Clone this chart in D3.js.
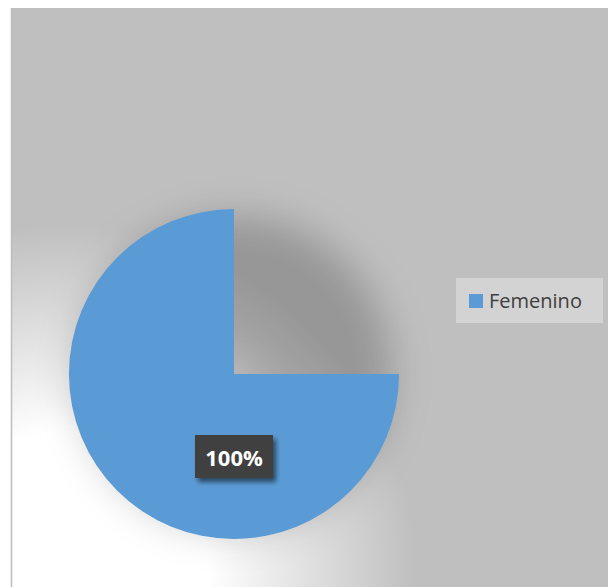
<!DOCTYPE html>
<html>
<head>
<meta charset="utf-8">
<script src="https://cdn.jsdelivr.net/npm/d3@7"></script>
<style>
  html, body { margin: 0; padding: 0; background: #ffffff; }
  svg { display: block; }
</style>
</head>
<body>
<svg id="chart" width="608" height="587"></svg>
<script>
// Gender breakdown of respondents
const categories = ["Femenino"];
const values = [100];
const valueLabels = ["100%"];
const seriesColors = ["#5b9bd5"];

const W = 608, H = 587;
const svg = d3.select("#chart");
const defs = svg.append("defs");

// Chart frame
const frame = { x: 11, y: 8, w: W - 11, h: H - 8 };

// Light spot in the lower-left of the chart area
const glow = defs.append("radialGradient")
  .attr("id", "bgGlow")
  .attr("gradientUnits", "userSpaceOnUse")
  .attr("cx", 70).attr("cy", 570).attr("r", 345);
glow.append("stop").attr("offset", 0).attr("stop-color", "#ffffff");
glow.append("stop").attr("offset", 0.4).attr("stop-color", "#ffffff");
glow.append("stop").attr("offset", 1).attr("stop-color", "#bfbfbf");

defs.append("clipPath").attr("id", "frameClip")
  .append("rect")
  .attr("x", frame.x).attr("y", frame.y)
  .attr("width", frame.w).attr("height", frame.h);

const blurShadow = defs.append("filter").attr("id", "pieShadow")
  .attr("x", "-50%").attr("y", "-50%").attr("width", "200%").attr("height", "200%");
blurShadow.append("feGaussianBlur").attr("stdDeviation", 19);

const labelShadow = defs.append("filter").attr("id", "labelShadow")
  .attr("x", "-30%").attr("y", "-30%").attr("width", "160%").attr("height", "160%");
labelShadow.append("feGaussianBlur").attr("in", "SourceAlpha").attr("stdDeviation", 2.5);
labelShadow.append("feOffset").attr("dx", 3).attr("dy", 4).attr("result", "sh");
labelShadow.append("feComponentTransfer").attr("in", "sh").attr("result", "shA")
  .append("feFuncA").attr("type", "linear").attr("slope", 0.55);
const lm = labelShadow.append("feMerge");
lm.append("feMergeNode").attr("in", "shA");
lm.append("feMergeNode").attr("in", "SourceGraphic");

svg.append("rect")
  .attr("x", frame.x).attr("y", frame.y)
  .attr("width", frame.w).attr("height", frame.h)
  .attr("fill", "#bfbfbf");
svg.append("rect")
  .attr("x", frame.x).attr("y", frame.y)
  .attr("width", frame.w).attr("height", frame.h)
  .attr("fill", "url(#bgGlow)");
svg.append("line")
  .attr("x1", frame.x + 0.5).attr("x2", frame.x + 0.5)
  .attr("y1", frame.y).attr("y2", H)
  .attr("stroke", "#bdbdbd").attr("stroke-width", 1.5);

// Pie geometry
const cx = 234, cy = 374, radius = 165;
const pie = d3.pie().sort(null).value(d => d);
const arcs = pie(values);
const arc = d3.arc().innerRadius(0).outerRadius(radius);
const shadowRing = d3.arc().innerRadius(12).outerRadius(158);

const plot = svg.append("g").attr("clip-path", "url(#frameClip)")
  .append("g").attr("transform", `translate(${cx},${cy})`);

// Soft drop shadow beneath the pie
plot.selectAll("path.shadow")
  .data(arcs)
  .join("path")
  .attr("class", "shadow")
  .attr("d", shadowRing)
  .attr("fill", "#000")
  .attr("fill-opacity", 0.21)
  .attr("filter", "url(#pieShadow)");

// Top-right quadrant is cut away to show the shadow
const cut = defs.append("clipPath").attr("id", "cutaway");
cut.append("rect").attr("x", -radius - 2).attr("y", -radius - 2)
  .attr("width", radius + 2).attr("height", 2 * radius + 4);
cut.append("rect").attr("x", 0).attr("y", 0)
  .attr("width", radius + 2).attr("height", radius + 2);

plot.selectAll("path.slice")
  .data(arcs)
  .join("path")
  .attr("class", "slice")
  .attr("d", arc)
  .attr("fill", (d, i) => seriesColors[i])
  .attr("clip-path", "url(#cutaway)");

// Data labels
const labelArc = d3.arc().innerRadius(0).outerRadius(radius);
const lbl = plot.selectAll("g.label")
  .data(arcs)
  .join("g")
  .attr("class", "label")
  .attr("transform", d => {
    const [x, y] = labelArc.centroid(d);
    return `translate(${x},${y})`;
  });
lbl.append("rect")
  .attr("x", -39).attr("y", -21.5)
  .attr("width", 78).attr("height", 43)
  .attr("fill", "#404040")
  .attr("filter", "url(#labelShadow)");
lbl.append("text")
  .attr("text-anchor", "middle")
  .attr("y", 9)
  .attr("fill", "#ffffff")
  .attr("font-family", "'Open Sans', sans-serif")
  .attr("font-weight", "bold")
  .attr("font-size", 22)
  .text((d, i) => valueLabels[i]);

// Legend
const legend = svg.append("g").attr("transform", "translate(456,278)");
legend.append("rect")
  .attr("width", 147).attr("height", 45)
  .attr("fill", "#d3d3d3");
const item = legend.selectAll("g.item")
  .data(categories)
  .join("g")
  .attr("class", "item");
item.append("rect")
  .attr("x", 13).attr("y", 16)
  .attr("width", 14).attr("height", 14)
  .attr("fill", (d, i) => seriesColors[i]);
item.append("text")
  .attr("x", 33).attr("y", 30)
  .attr("fill", "#404040")
  .attr("font-family", "'Open Sans', sans-serif")
  .attr("font-size", 20)
  .text(d => d);
</script>
</body>
</html>
